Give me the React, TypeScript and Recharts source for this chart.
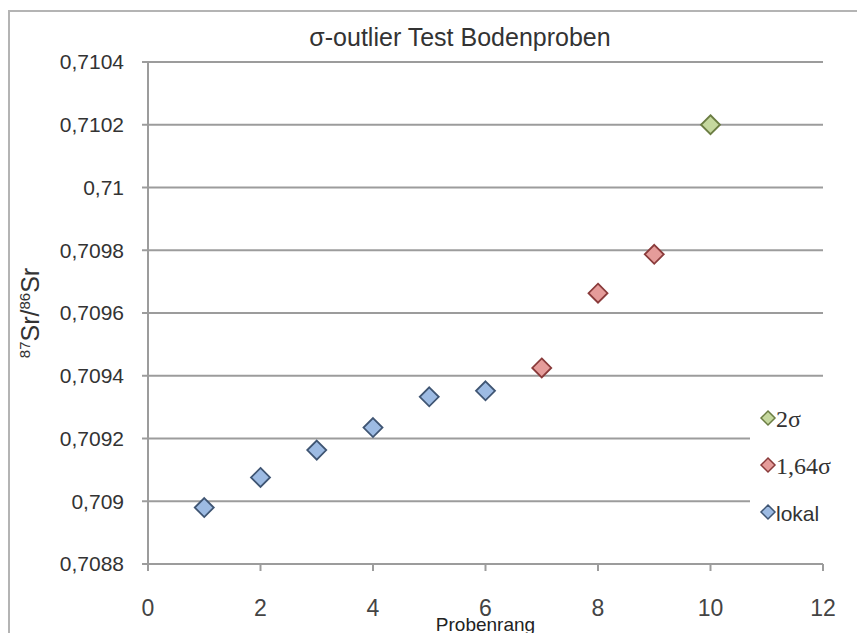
import { ScatterChart, Scatter, XAxis, YAxis, CartesianGrid, Legend, Label } from 'recharts';

// Probenrang / 87Sr/86Sr je Gruppe
const lokalRang = [1, 2, 3, 4, 5, 6];
const lokalWerte = [0.70898, 0.709076, 0.709163, 0.709235, 0.709333, 0.709352];

const sigma164Rang = [7, 8, 9];
const sigma164Werte = [0.709425, 0.709663, 0.709787];

const sigma2Rang = [10];
const sigma2Werte = [0.7102];

const xTicks = [0, 2, 4, 6, 8, 10, 12];
const yTicks = [0.7088, 0.709, 0.7092, 0.7094, 0.7096, 0.7098, 0.71, 0.7102, 0.7104];

const legendOrder = ['2σ', '1,64σ', 'lokal'];

const toPoints = (rang: number[], werte: number[]) =>
  rang.map((r, i) => ({ rang: r, wert: werte[i] }));

const lokal = toPoints(lokalRang, lokalWerte);
const sigma164 = toPoints(sigma164Rang, sigma164Werte);
const sigma2 = toPoints(sigma2Rang, sigma2Werte);

const GRID = '#9c9c9c';

const diamond = (fill: string, stroke: string) => (props: any) => {
  const { cx, cy } = props;
  const r = 9.5;
  return (
    <polygon
      points={`${cx},${cy - r} ${cx + r},${cy} ${cx},${cy + r} ${cx - r},${cy}`}
      fill={fill}
      stroke={stroke}
      strokeWidth={1.8}
    />
  );
};

const series = [
  { name: 'lokal', data: lokal, fill: '#9dbbe3', stroke: '#3f5573' },
  { name: '1,64σ', data: sigma164, fill: '#e59c9a', stroke: '#8a3b3b' },
  { name: '2σ', data: sigma2, fill: '#c5d89e', stroke: '#6b7d43' },
];

const renderLegend = (props: any) => {
  const items = [...(props.payload || [])].sort(
    (a: any, b: any) => legendOrder.indexOf(a.value) - legendOrder.indexOf(b.value)
  );
  return (
    <div style={{ paddingTop: 2 }}>
      {items.map((p: any) => {
        const s = series.find((x) => x.name === p.value)!;
        const serif = p.value.includes('σ');
        return (
          <div key={p.value} style={{ height: 47, display: 'flex', alignItems: 'center' }}>
            <svg width={30} height={20} style={{ flexShrink: 0 }}>
              <polygon points="18,3 25,10 18,17 11,10" fill={s.fill} stroke={s.stroke} strokeWidth={1.5} />
            </svg>
            <span
              style={{
                fontFamily: serif ? '"Liberation Serif", "Times New Roman", serif' : '"Liberation Sans", Arial, sans-serif',
                fontSize: serif ? 24 : 21,
                color: '#333',
                marginLeft: -4,
                marginTop: 4,
              }}
            >
              {p.value}
            </span>
          </div>
        );
      })}
    </div>
  );
};

const renderYLabel = (props: any) => {
  const vb = props.viewBox || { x: 0, y: 0, width: 0, height: 0 };
  const x = 39;
  const y = vb.y + vb.height / 2;
  return (
    <text
      x={x}
      y={y}
      transform={`rotate(-90, ${x}, ${y})`}
      textAnchor="middle"
      fill="#333"
      fontFamily='"Liberation Sans", Arial, sans-serif'
    >
      <tspan fontSize={15} dy={-9}>87</tspan>
      <tspan fontSize={25} dy={9}>Sr/</tspan>
      <tspan fontSize={15} dy={-9}>86</tspan>
      <tspan fontSize={25} dy={9}>Sr</tspan>
    </text>
  );
};

const renderXLabel = (props: any) => {
  const vb = props.viewBox || { x: 0, y: 0, width: 0, height: 0 };
  return (
    <text
      x={vb.x + vb.width / 2}
      y={vb.y + vb.height - 2}
      textAnchor="middle"
      fill="#222"
      fontSize={19}
      fontFamily='"Liberation Sans", Arial, sans-serif'
    >
      Probenrang
    </text>
  );
};

export default function App() {
  return (
    <div
      style={{
        position: 'absolute',
        left: 0,
        top: 0,
        width: 857,
        height: 633,
        overflow: 'hidden',
        background: '#fff',
        fontFamily: '"Liberation Sans", Arial, sans-serif',
      }}
    >
      <div
        style={{
          position: 'absolute',
          left: 8,
          top: 10,
          width: 960,
          height: 700,
          border: '2px solid #b4b4b4',
        }}
      />
      <div
        style={{
          position: 'absolute',
          left: 0,
          top: 23,
          width: 920,
          textAlign: 'center',
          fontSize: 25,
          color: '#333',
        }}
      >
        σ-outlier Test Bodenproben
      </div>
      <div style={{ position: 'absolute', left: 0, top: 0 }}>
        <ScatterChart width={857} height={633} margin={{ top: 62, right: 34, left: 0, bottom: 0 }}>
          <CartesianGrid horizontal vertical={false} stroke={GRID} strokeWidth={2} />
          <XAxis
            type="number"
            dataKey="rang"
            domain={[0, 12]}
            ticks={xTicks}
            height={69}
            tickSize={7}
            tickMargin={29}
            tick={{ fontSize: 23, fill: '#444' }}
            axisLine={{ stroke: GRID, strokeWidth: 2 }}
            tickLine={{ stroke: GRID, strokeWidth: 2 }}
          >
            <Label content={renderXLabel} />
          </XAxis>
          <YAxis
            type="number"
            dataKey="wert"
            domain={[0.7088, 0.7104]}
            ticks={yTicks}
            width={148}
            tickSize={6}
            tickMargin={18}
            tick={{ fontSize: 21, fill: '#333' }}
            tickFormatter={(v: number) => String(v).replace('.', ',')}
            axisLine={{ stroke: GRID, strokeWidth: 2 }}
            tickLine={{ stroke: GRID, strokeWidth: 2 }}
          >
            <Label content={renderYLabel} />
          </YAxis>
          {series.map((s) => (
            <Scatter
              key={s.name}
              name={s.name}
              data={s.data}
              fill={s.fill}
              shape={diamond(s.fill, s.stroke)}
              isAnimationActive={false}
            />
          ))}
          <Legend
            layout="horizontal"
            align="center"
            verticalAlign="middle"
            content={renderLegend}
            wrapperStyle={{ left: 750, top: 392, width: 107, height: 146, backgroundColor: '#fff' }}
          />
        </ScatterChart>
      </div>
    </div>
  );
}
